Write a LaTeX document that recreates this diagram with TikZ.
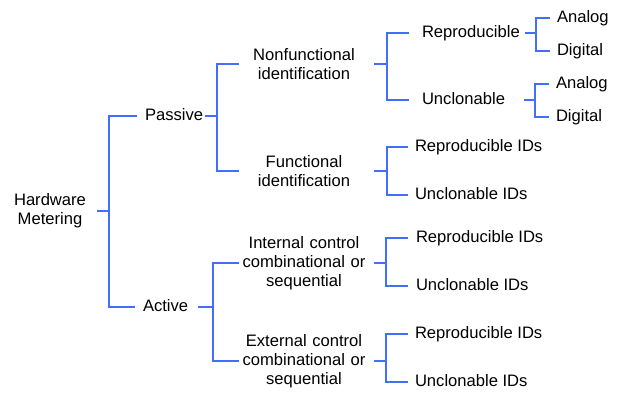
\documentclass[tikz,border=0pt]{standalone}
\usepackage{fontspec}
\setmainfont{Liberation Sans}
\usetikzlibrary{positioning}
\definecolor{treeblue}{RGB}{66,110,250}

\begin{document}
\begin{tikzpicture}[x=1pt, y=-1pt,
    every node/.style={inner sep=0pt, outer sep=0pt, font=\fontsize{16.6}{19}\selectfont},
    conn/.style={treeblue, line width=1.6pt},
    one/.style={text height=12pt, text depth=3.5pt},
    mid/.style={text width=128pt, align=center},
    sub/.style={one, anchor=west, text width=98pt, align=left},
    leaf/.style={one, anchor=west}]
    \useasboundingbox (0,0) rectangle (627,392);

    % Root and first level
    \node[align=center] (hw) at (50,211) {Hardware\\Metering};
    \node[one, anchor=west] (passive) at (145,116) {Passive};
    \node[one, anchor=west] (active) at (143,307) {Active};

    % Second level
    \node[mid] (nonfun) at (304,64) {Nonfunctional\\identification};
    \node[mid] (fun) at (304,171) {Functional\\identification};
    \node[mid] (int) at (304,263) {Internal control\\combinational or\\sequential};
    \node[mid] (ext) at (304,361) {External control\\combinational or\\sequential};

    % Third level
    \node[sub] (rep) at (422,33) {Reproducible};
    \node[sub] (uncl) at (422,100) {Unclonable};
    \node[leaf] (ridf) at (415,147) {Reproducible IDs};
    \node[leaf] (uidf) at (415,195) {Unclonable IDs};
    \node[leaf] (ridi) at (416,238) {Reproducible IDs};
    \node[leaf] (uidi) at (416,286) {Unclonable IDs};
    \node[leaf] (ride) at (415,334) {Reproducible IDs};
    \node[leaf] (uide) at (415,382) {Unclonable IDs};

    % Fourth level
    \node[leaf] (anr) at (557,18) {Analog};
    \node[leaf] (dgr) at (557,51) {Digital};
    \node[leaf] (anu) at (556,84) {Analog};
    \node[leaf] (dgu) at (556,117) {Digital};

    % Junctions
    \coordinate (jhw) at (109,211);
    \coordinate (jpas) at (217,116);
    \coordinate (jact) at (213,307);
    \coordinate (jnon) at (387,64);
    \coordinate (jfun) at (387,171);
    \coordinate (jint) at (386,263);
    \coordinate (jext) at (386,361);
    \coordinate (jrep) at (536,33);
    \coordinate (juncl) at (535,100);

    % Brackets
    \draw[conn, shorten <=11pt] (hw.east) -- (jhw);
    \draw[conn, shorten <=8pt, shorten >=8pt] (passive.west) -| (jhw) |- (active.west);

    \draw[conn, shorten <=2pt] (passive.east) -- (jpas);
    \draw[conn, shorten <=1pt, shorten >=1pt] (nonfun.west) -| (jpas) |- (fun.west);
    \draw[conn, shorten <=10pt] (active.east) -- (jact);
    \draw[conn, shorten <=1pt, shorten >=1pt] (int.west) -| (jact) |- (ext.west);

    \draw[conn, shorten <=6pt] (nonfun.east) -- (jnon);
    \draw[conn, shorten <=13pt, shorten >=13pt] (rep.west) -| (jnon) |- (uncl.west);
    \draw[conn, shorten <=6pt] (fun.east) -- (jfun);
    \draw[conn, shorten <=7pt, shorten >=7pt] (ridf.west) -| (jfun) |- (uidf.west);
    \draw[conn, shorten <=6pt] (int.east) -- (jint);
    \draw[conn, shorten <=8pt, shorten >=8pt] (ridi.west) -| (jint) |- (uidi.west);
    \draw[conn, shorten <=6pt] (ext.east) -- (jext);
    \draw[conn, shorten <=7pt, shorten >=7pt] (ride.west) -| (jext) |- (uide.west);

    \draw[conn, shorten <=5pt] (rep.east) -- (jrep);
    \draw[conn, shorten <=7pt, shorten >=7pt] (anr.west) -| (jrep) |- (dgr.west);
    \draw[conn, shorten <=4pt] (uncl.east) -- (juncl);
    \draw[conn, shorten <=7pt, shorten >=7pt] (anu.west) -| (juncl) |- (dgu.west);
\end{tikzpicture}
\end{document}
